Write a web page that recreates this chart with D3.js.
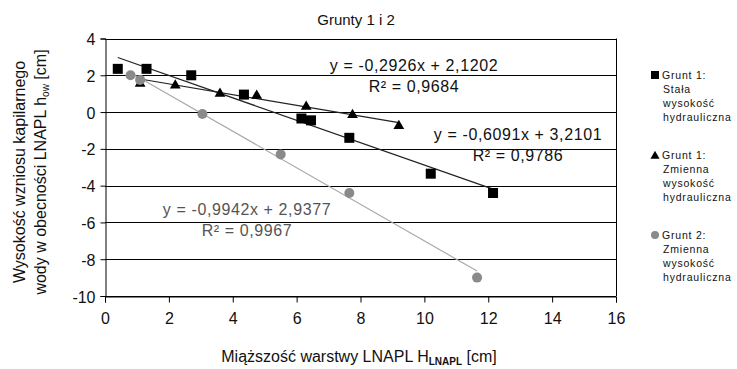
<!DOCTYPE html>
<html>
<head>
<meta charset="utf-8">
<script src="https://cdn.jsdelivr.net/npm/d3@7"></script>
<style>
  body { margin: 0; background: #fff; }
  text { font-family: "Liberation Sans", Arial, sans-serif; }
</style>
</head>
<body>
<svg id="chart" width="737" height="369"></svg>
<script>
// dane
const stalaX = [0.4, 1.3, 2.7, 4.35, 6.15, 6.45, 7.65, 10.2, 12.15];
const stalaY = [2.35, 2.35, 2.0, 0.95, -0.35, -0.45, -1.4, -3.35, -4.4];
const zmienna1X = [1.1, 2.2, 3.6, 4.75, 6.3, 7.75, 9.2];
const zmienna1Y = [1.6, 1.5, 1.05, 0.95, 0.35, -0.1, -0.7];
const grunt2X = [0.8, 1.1, 3.05, 5.5, 7.65, 11.65];
const grunt2Y = [2.0, 1.75, -0.1, -2.3, -4.4, -9.0];

const trendy = [
  { a: -0.6091, b: 3.2101, x0: 0.4, x1: 12.15, eq: "y = -0,6091x + 3,2101", r2: "R² = 0,9786", color: "#111", lineColor: "#222", lx: 518, ly: 140 },
  { a: -0.2926, b: 2.1202, x0: 1.1, x1: 9.2, eq: "y = -0,2926x + 2,1202", r2: "R² = 0,9684", color: "#111", lineColor: "#222", lx: 414, ly: 71 },
  { a: -0.9942, b: 2.9377, x0: 0.8, x1: 11.65, eq: "y = -0,9942x + 2,9377", r2: "R² = 0,9967", color: "#555", lineColor: "#aaa", lx: 247, ly: 215 }
];

const xTicks = [0, 2, 4, 6, 8, 10, 12, 14, 16];
const yTicks = [4, 2, 0, -2, -4, -6, -8, -10];

const legendItems = [
  { symbol: "square", color: "#000", lines: ["Grunt 1:", "Stała", "wysokość", "hydrauliczna"] },
  { symbol: "triangle", color: "#000", lines: ["Grunt 1:", "Zmienna", "wysokość", "hydrauliczna"] },
  { symbol: "circle", color: "#8a8a8a", lines: ["Grunt 2:", "Zmienna", "wysokość", "hydrauliczna"] }
];

const svg = d3.select("#chart");
const margin = { left: 105, right: 121, top: 38.5, bottom: 73 };
const W = 737, H = 369;

const x = d3.scaleLinear().domain([0, 16]).range([margin.left, W - margin.right]);
const y = d3.scaleLinear().domain([-10, 4]).range([H - margin.bottom, margin.top]);

// siatka
svg.append("g")
  .selectAll("line")
  .data(yTicks)
  .join("line")
  .attr("x1", x(0)).attr("x2", x(16))
  .attr("y1", (d) => Math.round(y(d)) + 0.5)
  .attr("y2", (d) => Math.round(y(d)) + 0.5)
  .attr("stroke", "#000");

svg.append("line")
  .attr("x1", Math.round(x(16)) + 0.5).attr("x2", Math.round(x(16)) + 0.5)
  .attr("y1", y(4)).attr("y2", y(-10))
  .attr("stroke", "#000");

// osie
const xAxis = svg.append("g")
  .attr("transform", `translate(0,${Math.round(y(-10)) + 0.5})`)
  .call(d3.axisBottom(x).tickValues(xTicks).tickSize(6).tickPadding(6).tickFormat(d3.format("d")));
const yAxis = svg.append("g")
  .attr("transform", `translate(${Math.round(x(0)) + 0.5},0)`)
  .call(d3.axisLeft(y).tickValues(yTicks).tickSize(5).tickPadding(5).tickFormat((d) => d));

[xAxis, yAxis].forEach((g) => {
  g.select(".domain").attr("stroke", "#000");
  g.selectAll(".tick line").attr("stroke", "#000");
  g.selectAll(".tick text")
    .attr("fill", "#111")
    .style("font-size", "16px")
    .style("font-family", "'Liberation Sans', Arial, sans-serif");
});
xAxis.selectAll(".tick text").attr("dy", "0.95em");
yAxis.selectAll(".tick text").attr("dy", "0.38em");

// linie trendu
svg.append("g")
  .selectAll("line")
  .data(trendy)
  .join("line")
  .attr("x1", (d) => x(d.x0)).attr("y1", (d) => y(d.a * d.x0 + d.b))
  .attr("x2", (d) => x(d.x1)).attr("y2", (d) => y(d.a * d.x1 + d.b))
  .attr("stroke", (d) => d.lineColor)
  .attr("stroke-width", 1.2);

// serie
const sym = (type, size) => d3.symbol().type(type).size(size)();

svg.append("g")
  .selectAll("path")
  .data(zmienna1X.map((v, i) => [v, zmienna1Y[i]]))
  .join("path")
  .attr("transform", (d) => `translate(${x(d[0])},${y(d[1]) + 1})`)
  .attr("d", sym(d3.symbolTriangle, 50))
  .attr("fill", "#000");

svg.append("g")
  .selectAll("rect")
  .data(stalaX.map((v, i) => [v, stalaY[i]]))
  .join("rect")
  .attr("x", (d) => x(d[0]) - 5)
  .attr("y", (d) => y(d[1]) - 5)
  .attr("width", 10).attr("height", 10)
  .attr("fill", "#000");

svg.append("g")
  .selectAll("circle")
  .data(grunt2X.map((v, i) => [v, grunt2Y[i]]))
  .join("circle")
  .attr("cx", (d) => x(d[0]))
  .attr("cy", (d) => y(d[1]))
  .attr("r", 5)
  .attr("fill", "#8a8a8a");

// równania
const eqs = svg.append("g").selectAll("g").data(trendy).join("g");
eqs.append("text")
  .attr("x", (d) => d.lx).attr("y", (d) => d.ly)
  .attr("text-anchor", "middle")
  .style("font-size", "16px").style("letter-spacing", "0.6px")
  .attr("fill", (d) => d.color)
  .text((d) => d.eq);
eqs.append("text")
  .attr("x", (d) => d.lx).attr("y", (d) => d.ly + 21)
  .attr("text-anchor", "middle")
  .style("font-size", "16px").style("letter-spacing", "0.6px")
  .attr("fill", (d) => d.color)
  .text((d) => d.r2);

// tytuł
svg.append("text")
  .attr("x", 356).attr("y", 25)
  .attr("text-anchor", "middle")
  .style("font-size", "15px")
  .attr("fill", "#111")
  .text("Grunty 1 i 2");

// tytuł osi X
const xt = svg.append("text")
  .attr("x", 359).attr("y", 362)
  .attr("text-anchor", "middle")
  .style("font-size", "16px")
  .attr("fill", "#111");
xt.append("tspan").text("Miąższość warstwy LNAPL H");
xt.append("tspan").attr("dy", 3).style("font-size", "10px").style("font-weight", "bold").text("LNAPL");
xt.append("tspan").attr("dy", -3).text(" [cm]");

// tytuł osi Y
const yt = svg.append("text")
  .attr("transform", "translate(25,172) rotate(-90)")
  .attr("text-anchor", "middle")
  .style("font-size", "16px")
  .attr("fill", "#111");
yt.append("tspan").attr("x", 0).attr("y", 0).text("Wysokość wzniosu kapilarnego");
const yt2 = svg.append("text")
  .attr("transform", "translate(46,172) rotate(-90)")
  .attr("text-anchor", "middle")
  .style("font-size", "16px")
  .attr("fill", "#111");
yt2.append("tspan").text("wody w obecności LNAPL h");
yt2.append("tspan").attr("dy", 3).style("font-size", "10px").text("ow");
yt2.append("tspan").attr("dy", -3).text(" [cm]");

// legenda
const leg = svg.append("g").selectAll("g").data(legendItems).join("g")
  .attr("transform", (d, i) => `translate(656,${79 + i * 80})`);
leg.each(function (d) {
  const g = d3.select(this);
  if (d.symbol === "square") {
    g.append("rect").attr("x", -5).attr("y", -8).attr("width", 8).attr("height", 8).attr("fill", d.color);
  } else if (d.symbol === "triangle") {
    g.append("path").attr("transform", "translate(-1,-3)").attr("d", sym(d3.symbolTriangle, 36)).attr("fill", d.color);
  } else {
    g.append("circle").attr("cx", -1).attr("cy", -4).attr("r", 4).attr("fill", d.color);
  }
  g.selectAll("text")
    .data(d.lines)
    .join("text")
    .attr("x", (t, j) => (j === 0 ? 6 : 7))
    .attr("y", (t, j) => j * 14)
    .style("font-size", "10.5px")
    .style("letter-spacing", "0.8px")
    .attr("fill", "#111")
    .text((t) => t);
});
</script>
</body>
</html>
